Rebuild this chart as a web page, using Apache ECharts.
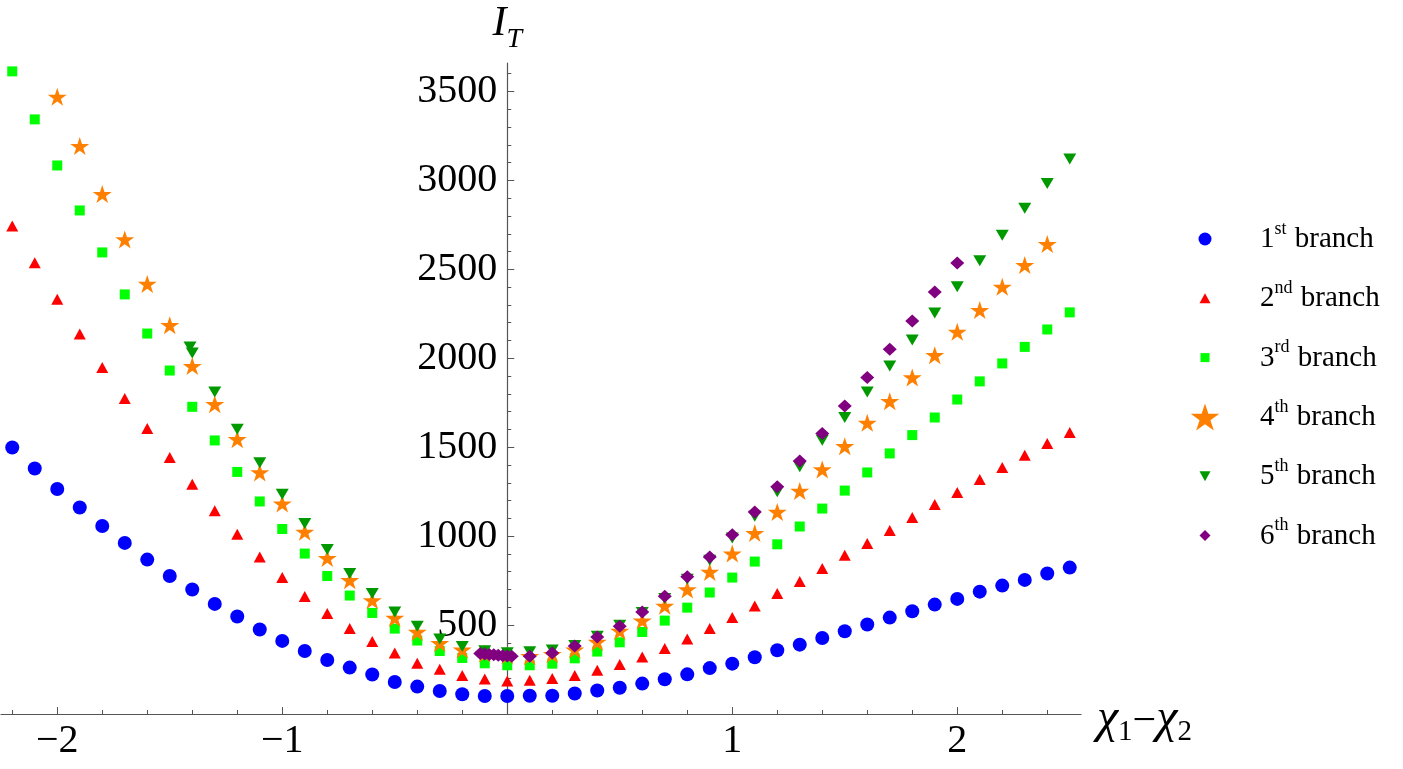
<!DOCTYPE html>
<html>
<head>
<meta charset="utf-8">
<script src="https://cdn.jsdelivr.net/npm/echarts@6/dist/echarts.min.js"></script>
<style>
  html, body { margin: 0; padding: 0; background: #fff; }
  #chart { width: 1403px; height: 769px; }
</style>
</head>
<body>
<div id="chart"></div>
<script>
// x values shared by branches 1-3
const xFull = [-2.2,-2.1,-2.0,-1.9,-1.8,-1.7,-1.6,-1.5,-1.4,-1.3,-1.2,-1.1,-1.0,-0.9,-0.8,-0.7,
  -0.6,-0.5,-0.4,-0.3,-0.2,-0.1,0,0.1,0.2,0.3,0.4,0.5,0.6,0.7,
  0.8,0.9,1.0,1.1,1.2,1.3,1.4,1.5,1.6,1.7,1.8,1.9,2.0,2.1,2.2,2.3,2.4,2.5];

const branch1 = [1498,1380,1265,1161,1057,962,868,776,700,619,548,475,411,354,304,261,
  222,180,154,129,111,101,101,103,103,115,132,148,171,195,
  223,258,283,319,358,390,427,465,503,542,578,615,647,688,722,754,790,823];

const branch2 = [2743,2537,2332,2136,1948,1774,1605,1442,1292,1142,1011,883,767,660,565,480,
  407,343,285,251,216,197,186,190,199,216,246,278,321,368,
  422,480,542,607,677,745,818,893,958,1031,1105,1178,1245,1318,1386,1455,1521,1583];

const branch3 = [3613,3343,3084,2831,2595,2359,2139,1931,1727,1538,1361,1195,1040,902,776,666,
  568,480,413,354,315,285,274,274,283,313,351,403,461,525,
  598,683,767,857,954,1054,1155,1256,1358,1465,1568,1667,1768,1870,1971,2064,2162,2258];

const x4 = [-2.0,-1.9,-1.8,-1.7,-1.6,-1.5,-1.4,-1.3,-1.2,-1.1,-1.0,-0.9,-0.8,-0.7,
  -0.6,-0.5,-0.4,-0.3,-0.2,-0.1,0,0.1,0.2,0.3,0.4,0.5,0.6,0.7,
  0.8,0.9,1.0,1.1,1.2,1.3,1.4,1.5,1.6,1.7,1.8,1.9,2.0,2.1,2.2,2.3,2.4];
const branch4 = [3470,3193,2923,2668,2418,2186,1956,1742,1545,1358,1183,1024,877,752,
  639,540,461,399,362,340,330,325,336,362,405,467,525,608,
  700,799,902,1017,1136,1254,1375,1506,1637,1759,1892,2017,2149,2271,2402,2524,2642];

const x5 = [-1.41,-1.4,-1.3,-1.2,-1.1,-1.0,-0.9,-0.8,-0.7,
  -0.6,-0.5,-0.4,-0.3,-0.2,-0.1,0,0.1,0.2,0.3,0.4,0.5,0.6,0.7,
  0.8,0.9,1.0,1.1,1.2,1.3,1.4,1.5,1.6,1.7,1.8,1.9,2.0,2.1,2.2,2.3,2.4,2.5];
const branch5 = [2064,2030,1811,1601,1412,1236,1071,925,790,
  677,574,493,422,380,355,345,350,360,385,437,499,570,650,
  757,865,990,1112,1250,1390,1539,1667,1811,1956,2102,2255,2402,2548,2692,2843,2983,3120];

const x6 = [-0.12,-0.1,-0.08,-0.06,-0.04,-0.02,0,0.02,
  0.1,0.2,0.3,0.4,0.5,0.6,0.7,0.8,0.9,1.0,1.1,1.2,1.3,1.4,1.5,1.6,1.7,1.8,1.9,2.0];
const branch6 = [340,338,334,333,330,328,326,325,
  325,343,382,433,493,574,662,771,883,1008,1135,1277,1423,1577,1732,1892,2050,2210,2373,2536];

const ordinals = ['1','2','3','4','5','6'];
const suffixes = ['st','nd','rd','th','th','th'];

const xTickMinor = [-2.2,-2.0,-1.8,-1.6,-1.4,-1.2,-1.0,-0.8,-0.6,-0.4,-0.2,0.2,0.4,0.6,0.8,1.0,1.2,1.4,1.6,1.8,2.0,2.2,2.4];
const xTickMajor = [-2,-1,1,2];
const yTickMinor = [100,200,300,400,500,600,700,800,900,1000,1100,1200,1300,1400,1500,1600,1700,1800,
  1900,2000,2100,2200,2300,2400,2500,2600,2700,2800,2900,3000,3100,3200,3300,3400,3500,3600];
const yTickMajor = [500,1000,1500,2000,2500,3000,3500];

const STAR = 'M15 0L18.37 10.36L29.27 10.36L20.45 16.77L23.82 27.14L15 20.73L6.18 27.14L9.55 16.77L0.73 10.36L11.63 10.36Z';

const colors = ['#0000ff', '#ff0000', '#00ff00', '#ff8000', '#009900', '#800080'];

function pairs(xs, ys) {
  return xs.map((x, i) => [x, ys[i]]);
}

function legendIcon(shape, color) {
  const svg = '<svg xmlns="http://www.w3.org/2000/svg" width="70" height="30" viewBox="0 0 70 30">' +
    shape.replace('FILL', color) + '</svg>';
  return 'image://data:image/svg+xml;charset=utf-8,' + encodeURIComponent(svg);
}

// legend glyphs, centred at (20,15) of a 70x30 box
const iconShapes = [
  '<circle cx="20" cy="15" r="6.5" fill="FILL"/>',
  '<polygon points="20,10 25.5,20 14.5,20" fill="FILL"/>',
  '<rect x="15.5" y="10.5" width="9" height="9" fill="FILL"/>',
  '<path transform="translate(5,1.5)" d="' + STAR + '" fill="FILL"/>',
  '<polygon points="14.5,10 25.5,10 20,20" fill="FILL"/>',
  '<polygon points="20,9.5 25.5,15 20,20.5 14.5,15" fill="FILL"/>'
];

const names = ordinals.map((o, i) => o + suffixes[i] + ' branch');

const seriesDefs = [
  { xs: xFull, ys: branch1, symbol: 'circle', size: 14 },
  { xs: xFull, ys: branch2, symbol: 'triangle', size: [12, 11] },
  { xs: xFull, ys: branch3, symbol: 'rect', size: 10 },
  { xs: x4, ys: branch4, symbol: 'path://' + STAR, size: [19, 18] },
  { xs: x5, ys: branch5, symbol: 'triangle', size: [13, 11], rotate: 180 },
  { xs: x6, ys: branch6, symbol: 'diamond', size: [14, 13] }
];

const FONT = '"Liberation Serif", "DejaVu Serif", serif';
const AXIS_COLOR = '#555';
const minus = v => (v < 0 ? '\u2212' + Math.abs(v) : String(v));

const GRID_LEFT = 1;
const GRID_RIGHT = 322;
const X_MIN = -2.25;
const X_MAX = 2.55;
// pixel distance from the grid's left edge to x = 0
const zeroOffset = (1403 - GRID_LEFT - GRID_RIGHT) * (0 - X_MIN) / (X_MAX - X_MIN);

const chart = echarts.init(document.getElementById('chart'));

chart.setOption({
  animation: false,
  backgroundColor: '#fff',
  grid: { left: GRID_LEFT, right: GRID_RIGHT, top: 63, bottom: 55, containLabel: false, outerBoundsMode: 'none' },
  legend: {
    orient: 'vertical',
    left: 1185,
    top: 220,
    padding: 0,
    itemWidth: 70,
    itemHeight: 30,
    itemGap: 25.3,
    selectedMode: false,
    data: names.map((n, i) => ({ name: n, icon: legendIcon(iconShapes[i], colors[i]) })),
    formatter: name => {
      const i = names.indexOf(name);
      return '{n|' + ordinals[i] + '}{s|' + suffixes[i] + '}{n| branch}';
    },
    textStyle: {
      color: '#000',
      fontFamily: FONT,
      rich: {
        n: { fontFamily: FONT, fontSize: 29, color: '#000', lineHeight: 30, verticalAlign: 'bottom' },
        s: { fontFamily: FONT, fontSize: 18, color: '#000', lineHeight: 30, verticalAlign: 'bottom', padding: [0, 1, 16, 0] }
      }
    }
  },
  xAxis: [
    {
      type: 'value', min: X_MIN, max: X_MAX, position: 'bottom',
      axisLine: { onZero: false, lineStyle: { color: AXIS_COLOR, width: 1.2 } },
      axisTick: { inside: true, length: 4, customValues: xTickMinor, lineStyle: { color: AXIS_COLOR } },
      axisLabel: {
        customValues: xTickMajor, formatter: minus, margin: 7,
        fontFamily: FONT, fontSize: 40, color: '#000'
      },
      splitLine: { show: false },
      name: '{c|\u03c7}{b|1}{m|\u2212}{c|\u03c7}{b|2}',
      nameLocation: 'end',
      nameGap: 16,
      nameTextStyle: {
        padding: [14, 0, 0, 0],
        rich: {
          c: { fontFamily: FONT, fontStyle: 'italic', fontSize: 48, color: '#000', verticalAlign: 'bottom', padding: [0, 0, 4, 0] },
          b: { fontFamily: FONT, fontSize: 29, color: '#000', verticalAlign: 'bottom' },
          m: { fontFamily: FONT, fontSize: 42, color: '#000', verticalAlign: 'bottom', padding: [0, 0, 4, 0] }
        }
      }
    },
    {
      type: 'value', min: X_MIN, max: X_MAX, position: 'bottom',
      axisLine: { show: false, onZero: false },
      axisTick: { inside: true, length: 7, customValues: xTickMajor, lineStyle: { color: AXIS_COLOR } },
      axisLabel: { show: false },
      splitLine: { show: false }
    }
  ],
  yAxis: [
    {
      type: 'value', min: 0, max: 3660, position: 'left',
      axisLine: { show: true, onZero: true, onZeroAxisIndex: 0, lineStyle: { color: AXIS_COLOR, width: 1.2 } },
      axisTick: { show: true, inside: true, length: 4, customValues: yTickMinor, lineStyle: { color: AXIS_COLOR } },
      axisLabel: { show: false },
      splitLine: { show: false },
      name: '{i|I}{t|T}',
      nameLocation: 'end',
      nameGap: 9,
      nameTextStyle: {
        align: 'center',
        rich: {
          i: { fontFamily: FONT, fontStyle: 'italic', fontSize: 42, color: '#000', verticalAlign: 'bottom', padding: [0, 0, 9, 0] },
          t: { fontFamily: FONT, fontStyle: 'italic', fontSize: 28, color: '#000', verticalAlign: 'bottom' }
        }
      }
    },
    {
      type: 'value', min: 0, max: 3660, position: 'left',
      axisLine: { show: false, onZero: true, onZeroAxisIndex: 0 },
      axisTick: { show: true, inside: true, length: 7, customValues: yTickMajor, lineStyle: { color: AXIS_COLOR } },
      axisLabel: { show: false },
      splitLine: { show: false }
    },
    {
      // tick labels, shifted inwards to sit beside the axis at x = 0
      type: 'value', min: 0, max: 3660, position: 'left',
      offset: -zeroOffset,
      axisLine: { show: false, onZero: false },
      axisTick: { show: false },
      axisLabel: {
        show: true,
        customValues: yTickMajor,
        formatter: v => String(v),
        margin: 10,
        hideOverlap: false,
        fontFamily: FONT, fontSize: 40, color: '#000'
      },
      splitLine: { show: false }
    }
  ],
  series: seriesDefs.map((d, i) => ({
    name: names[i],
    type: 'scatter',
    xAxisIndex: 0,
    yAxisIndex: 0,
    symbol: d.symbol,
    symbolSize: d.size,
    symbolRotate: d.rotate || 0,
    itemStyle: { color: colors[i], opacity: 1 },
    emphasis: { disabled: true },
    data: pairs(d.xs, d.ys)
  }))
});
</script>
</body>
</html>
